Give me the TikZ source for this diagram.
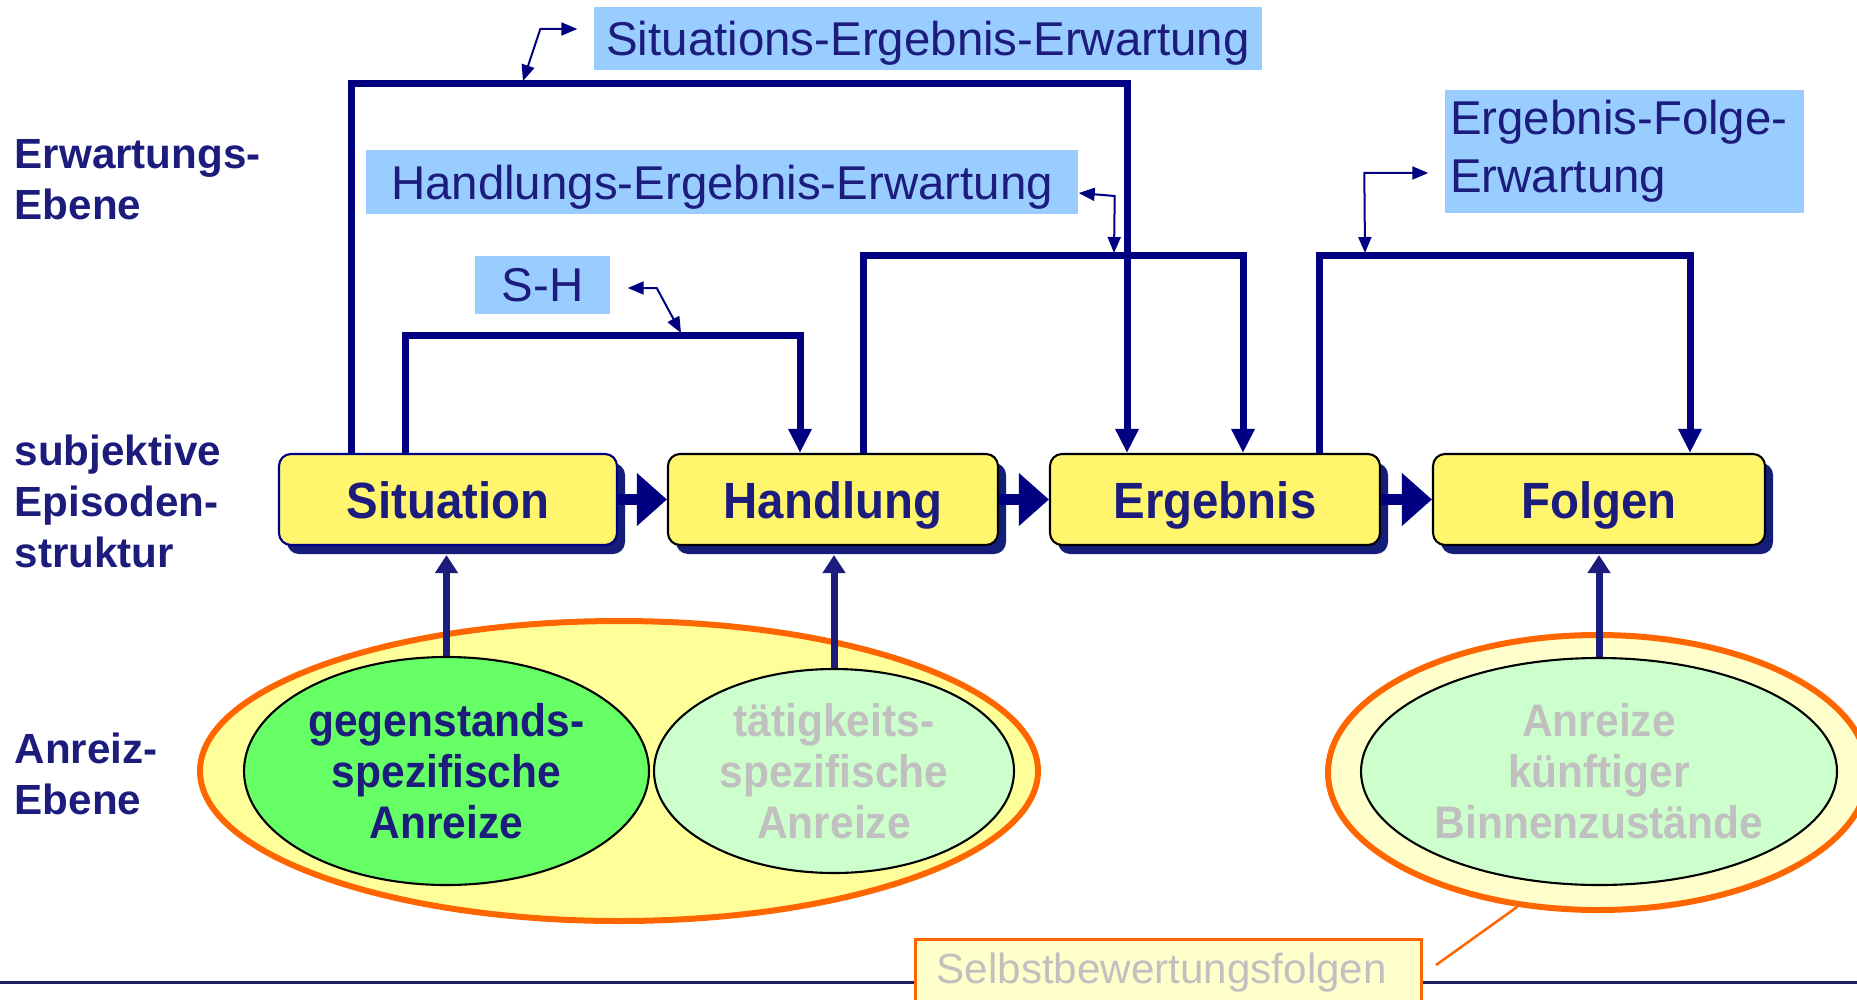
\documentclass[tikz,border=0pt]{standalone}
\usepackage{fontspec}
\setmainfont{Liberation Sans}
\newfontfamily\condbold{Liberation Sans Bold}[FakeStretch=0.93]
\usepackage{tikz}
\usetikzlibrary{arrows.meta,shapes.geometric,shadows}
\definecolor{linenavy}{HTML}{000080}
\definecolor{textblue}{HTML}{1C1C7C}
\definecolor{shadowblue}{HTML}{141E78}
\definecolor{boxyellow}{HTML}{FFF66E}
\definecolor{lblblue}{HTML}{99CCFF}
\definecolor{orangeline}{HTML}{FF6600}
\definecolor{paleyellow}{HTML}{FFFF99}
\definecolor{creamyellow}{HTML}{FFFFCC}
\definecolor{brightgreen}{HTML}{66FF66}
\definecolor{palegreen}{HTML}{CCFFCC}
\definecolor{greytext}{HTML}{C0C0C0}
\definecolor{rulenavy}{HTML}{1B2060}

\begin{document}
\begin{tikzpicture}[
	episode/.style={draw=black, line width=0.6pt, rounded corners=0.12cm, fill=boxyellow, minimum height=0.91cm, text height=0.37cm, text depth=0pt, text=textblue, font=\condbold\fontsize{14.5}{16}\selectfont, drop shadow={shadow xshift=0.08cm, shadow yshift=-0.09cm, fill=shadowblue, opacity=1}},
	tag/.style={fill=lblblue, inner sep=0pt, text=textblue, font=\fontsize{13.5}{16.5}\selectfont},
	ebene/.style={anchor=west, align=left, inner sep=0pt, text=textblue, font=\bfseries\fontsize{12}{14.5}\selectfont},
	anreiz/.style={ellipse, draw=black, line width=0.6pt, inner sep=0pt},
	hull/.style={ellipse, draw=orangeline, line width=0.06cm, inner sep=0pt},
	anreiztext/.style={align=center, inner sep=0pt, font=\condbold\fontsize{13}{14.5}\selectfont},
	conn/.style={draw=linenavy, line width=0.07cm, -{Triangle[length=0.24cm,width=0.22cm]}},
	flow/.style={draw=linenavy, line width=0.11cm, -{Triangle[length=0.30cm,width=0.51cm]}},
	auf/.style={draw=textblue, line width=0.07cm, shorten >=0.09cm, -{Triangle[length=0.18cm,width=0.22cm]}},
	ptr/.style={draw=linenavy, line width=0.02cm, {Triangle[length=0.16cm,width=0.13cm]}-{Triangle[length=0.16cm,width=0.13cm]}}
]
	\useasboundingbox (0,0) rectangle (18.57,-9.99);
	% Ebenen
	\node[ebene] (lvlErw) at (0.14,-1.795) {Erwartungs-\\Ebene};
	\node[ebene] (lvlEpi) at (0.14,-5.01) {subjektive\\Episoden-\\struktur};
	\node[ebene] (lvlAnr) at (0.14,-7.735) {Anreiz-\\Ebene};
	% Anreize
	\node[hull, fill=paleyellow, minimum width=8.38cm, minimum height=3.0cm] (leftHull) at (6.19,-7.71) {};
	\node[anreiz, fill=brightgreen, minimum width=4.05cm, minimum height=2.28cm] (gegEll) at (4.465,-7.71) {};
	\node[anreiz, fill=palegreen, minimum width=3.60cm, minimum height=2.04cm] (taetEll) at (8.34,-7.71) {};
	\node[hull, fill=creamyellow, minimum width=5.40cm, minimum height=2.75cm] (rightHull) at (15.98,-7.725) {};
	\node[anreiz, fill=palegreen, minimum width=4.76cm, minimum height=2.27cm] (kuenftEll) at (15.99,-7.715) {};
	\node[anreiztext, text=textblue] (gegTxt) at (gegEll) {gegenstands-\\spezifische\\Anreize};
	\node[anreiztext, text=greytext] (taetTxt) at (taetEll) {tätigkeits-\\spezifische\\Anreize};
	\node[anreiztext, text=greytext] (kuenftTxt) at (kuenftEll) {Anreize\\künftiger\\Binnenzustände};
	% Episode
	\node[episode, draw=linenavy, minimum width=3.38cm] (sit) at (4.48,-4.995) {Situation};
	\node[episode, minimum width=3.30cm] (hand) at (8.33,-4.995) {Handlung};
	\node[episode, minimum width=3.30cm] (erg) at (12.15,-4.995) {Ergebnis};
	\node[episode, minimum width=3.32cm] (folg) at (15.99,-4.995) {Folgen};
	\draw[flow] (sit.east) -- (hand.west);
	\draw[flow] (hand.east) -- (erg.west);
	\draw[flow] (erg.east) -- (folg.west);
	\draw[auf] (gegEll.north) -- (gegEll.north |- sit.south);
	\draw[auf] (taetEll.north) -- (taetEll.north |- hand.south);
	\draw[auf] (kuenftEll.north) -- (kuenftEll.north |- folg.south);
	% Erwartungen
	\draw[conn] ([xshift=-0.43cm]sit.north) |- ([xshift=-0.33cm,yshift=1.17cm]hand.north) -- ([xshift=-0.33cm]hand.north);
	\draw[conn] ([xshift=-0.97cm]sit.north) |- ([xshift=-0.88cm,yshift=3.69cm]erg.north) -- ([xshift=-0.88cm]erg.north);
	\draw[conn] ([xshift=0.30cm]hand.north) |- ([xshift=0.28cm,yshift=1.97cm]erg.north) -- ([xshift=0.28cm]erg.north);
	\draw[conn] ([xshift=1.04cm]erg.north) |- ([xshift=0.91cm,yshift=1.97cm]folg.north) -- ([xshift=0.91cm]folg.north);
	\node[tag, text depth=0pt, minimum width=6.68cm, minimum height=0.63cm] (sitergTag) at (9.28,-0.385) {Situations-Ergebnis-Erwartung};
	\node[tag, text depth=0pt, minimum width=7.12cm, minimum height=0.64cm] (handergTag) at (7.22,-1.82) {Handlungs-Ergebnis-Erwartung};
	\node[tag, text depth=0pt, minimum width=1.35cm, minimum height=0.58cm] (shTag) at (5.425,-2.85) {S-H};
	\node[tag, text width=3.49cm, inner xsep=0.05cm, align=left, minimum height=1.23cm] (ergfolgTag) at (16.245,-1.515) {Ergebnis-Folge-\\Erwartung};
	\coordinate (seFoot) at (5.23,-0.81);
	\coordinate (heFoot) at (11.14,-2.53);
	\coordinate (shFoot) at (6.81,-3.33);
	\coordinate (efFoot) at (13.65,-2.53);
	\draw[ptr] ([xshift=-0.16cm,yshift=0.095cm]sitergTag.west) -- ++(-0.37,0) -- (seFoot);
	\draw[ptr] ([yshift=-0.11cm]handergTag.east) -- ++(0.36,-0.03) -- (heFoot);
	\draw[ptr] ([xshift=0.17cm,yshift=-0.03cm]shTag.east) -- ++(0.29,0) -- (shFoot);
	\draw[ptr] ([xshift=-0.16cm,yshift=-0.215cm]ergfolgTag.west) -- ++(-0.64,0) -- (efFoot);
	% Selbstbewertung
	\coordinate (ruleL) at (0,-9.82);
	\coordinate (ruleR) at (18.57,-9.82);
	\draw[rulenavy, line width=0.03cm] (ruleL) -- (ruleR);
	\node[draw=orangeline, line width=0.03cm, fill=creamyellow, minimum width=5.06cm, minimum height=1.0cm, anchor=north west, inner sep=0pt] (selBox) at (9.14,-9.38) {};
	\node[anchor=base west, text=greytext, font=\fontsize{12}{14}\selectfont, inner sep=0pt] (selTxt) at ([xshift=0.22cm,yshift=-0.45cm]selBox.north west) {Selbstbewertungsfolgen};
	\draw[orangeline, line width=0.025cm] ([xshift=0.13cm,yshift=-0.27cm]selBox.north east) -- (rightHull.239);
\end{tikzpicture}
\end{document}
